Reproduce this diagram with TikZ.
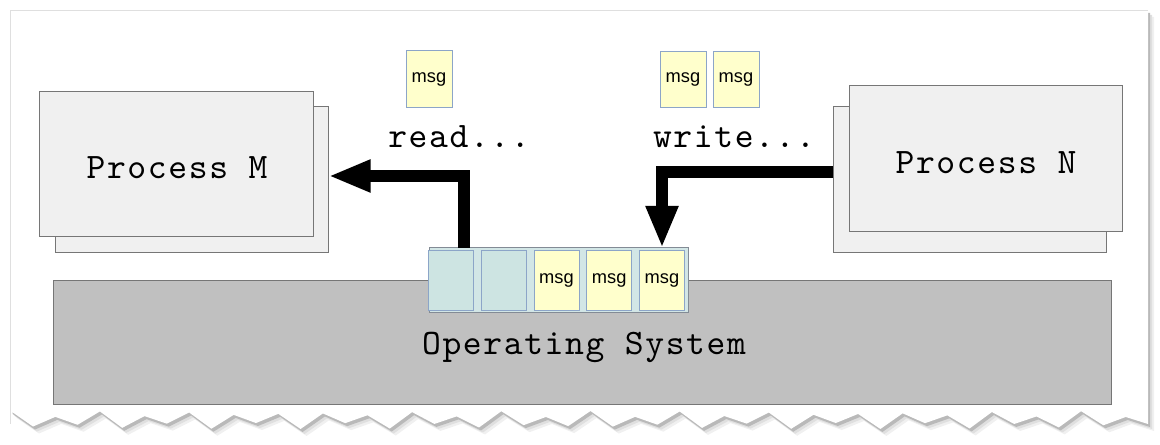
\documentclass[tikz,border=0pt]{standalone}
\usepackage{fontspec}
\usepackage{tikz}
\usetikzlibrary{positioning,calc,arrows.meta}
\newfontfamily\arialfont{Liberation Sans}
\newfontfamily\typefont{lmmono10-regular}[Extension=.otf,LetterSpace=4.5]
\definecolor{procfill}{RGB}{240,240,240}
\definecolor{procline}{RGB}{118,118,118}
\definecolor{osfill}{RGB}{192,192,192}
\definecolor{msgfill}{RGB}{255,255,204}
\definecolor{cellline}{RGB}{140,165,200}
\definecolor{cellfill}{RGB}{205,228,226}
\definecolor{queuefill}{RGB}{210,230,230}
\tikzset{
  proc/.style={draw=procline,fill=procfill,line width=0.7pt,inner sep=0pt,outer sep=0pt,
    minimum width=6.825cm,minimum height=3.625cm},
  msgbox/.style={draw=cellline,fill=msgfill,line width=0.7pt,inner sep=0pt,outer sep=0pt,
    minimum width=1.15cm,minimum height=1.4cm,font=\arialfont\fontsize{13}{15}\selectfont},
  cell/.style={msgbox,minimum width=1.125cm,minimum height=1.475cm},
  label/.style={font=\typefont\fontsize{25.5}{30}\selectfont,inner sep=0pt},
  bigarrow/.style={line width=8.5pt,-{Triangle[length=1.05cm,width=0.75cm]}}
}
\newcommand\tornpage[3]{% x shift, y shift, fill
  \fill[#3] ({10+#1},{10+#2}) -- ({1148+#1},{10+#2}) -- ({1148+#1},{424+#2})
    \foreach \i in {1,...,51} { -- ({1148+#1-\i*22.3},{420+#2+6*cos(\i*180)+3*sin(\i*97)}) } -- cycle;}
\begin{document}
\begin{tikzpicture}[x=0.025cm,y=-0.025cm]
    \useasboundingbox (0,0) rectangle (1160,445);
    % torn page with shadow
    \tornpage{6}{7}{gray!12}
    \tornpage{4}{5}{gray!25}
    \tornpage{2}{3}{gray!55}
    \tornpage{0}{0}{white}
    \draw[gray!25] (10,424) -- (10,10) -- (1148,10);
    % processes
    \node[proc] (procMback) at (192,179.5) {};
    \node[proc] (procM) at (176.5,164) {};
    \node[label] (procMtext) at (177,168) {Process M};
    \node[proc] (procNback) at (970,179.5) {};
    \node[proc] (procN) at (986,158.5) {};
    \node[label] (procNtext) at (986,163) {Process N};
    % operating system
    \node[draw=procline,fill=osfill,line width=0.7pt,minimum width=26.425cm,minimum height=3.075cm,
      inner sep=0pt,outer sep=0pt] (os) at (582.5,342.5) {};
    \node[label] (ostext) at (584,347) {Operating System};
    % message queue
    \node[draw=gray!70!cellline,fill=queuefill,line width=0.7pt,minimum width=6.45cm,minimum height=1.6cm,
      inner sep=0pt,outer sep=0pt] (queue) at (559,280) {};
    \foreach \i in {1,2} {
        \node[cell,fill=cellfill] (q\i) at ({451+(\i-1)*52.75},280.5) {};
    }
    \foreach \i in {3,4,5} {
        \node[cell] (q\i) at ({451+(\i-1)*52.75},280.5) {msg};
    }
    % messages in flight
    \node[msgbox] (msgR) at (429,79) {msg};
    \node[msgbox] (msgW1) at (683,79.5) {msg};
    \node[msgbox] (msgW2) at (736,79.5) {msg};
    \node[label] (lblRead) at (459,137) {read...};
    \node[label] (lblWrite) at (734,137) {write...};
    % arrows
    \coordinate (readStart) at ($(queue.north west)+(34,0)$);
    \draw[bigarrow] (readStart) |- ($(procMback.east)+(0,-3.5)$);
    \draw[bigarrow] ($(procNback.west)+(0,-7.5)$) -| (q5.north |- queue.north);
\end{tikzpicture}
\end{document}
